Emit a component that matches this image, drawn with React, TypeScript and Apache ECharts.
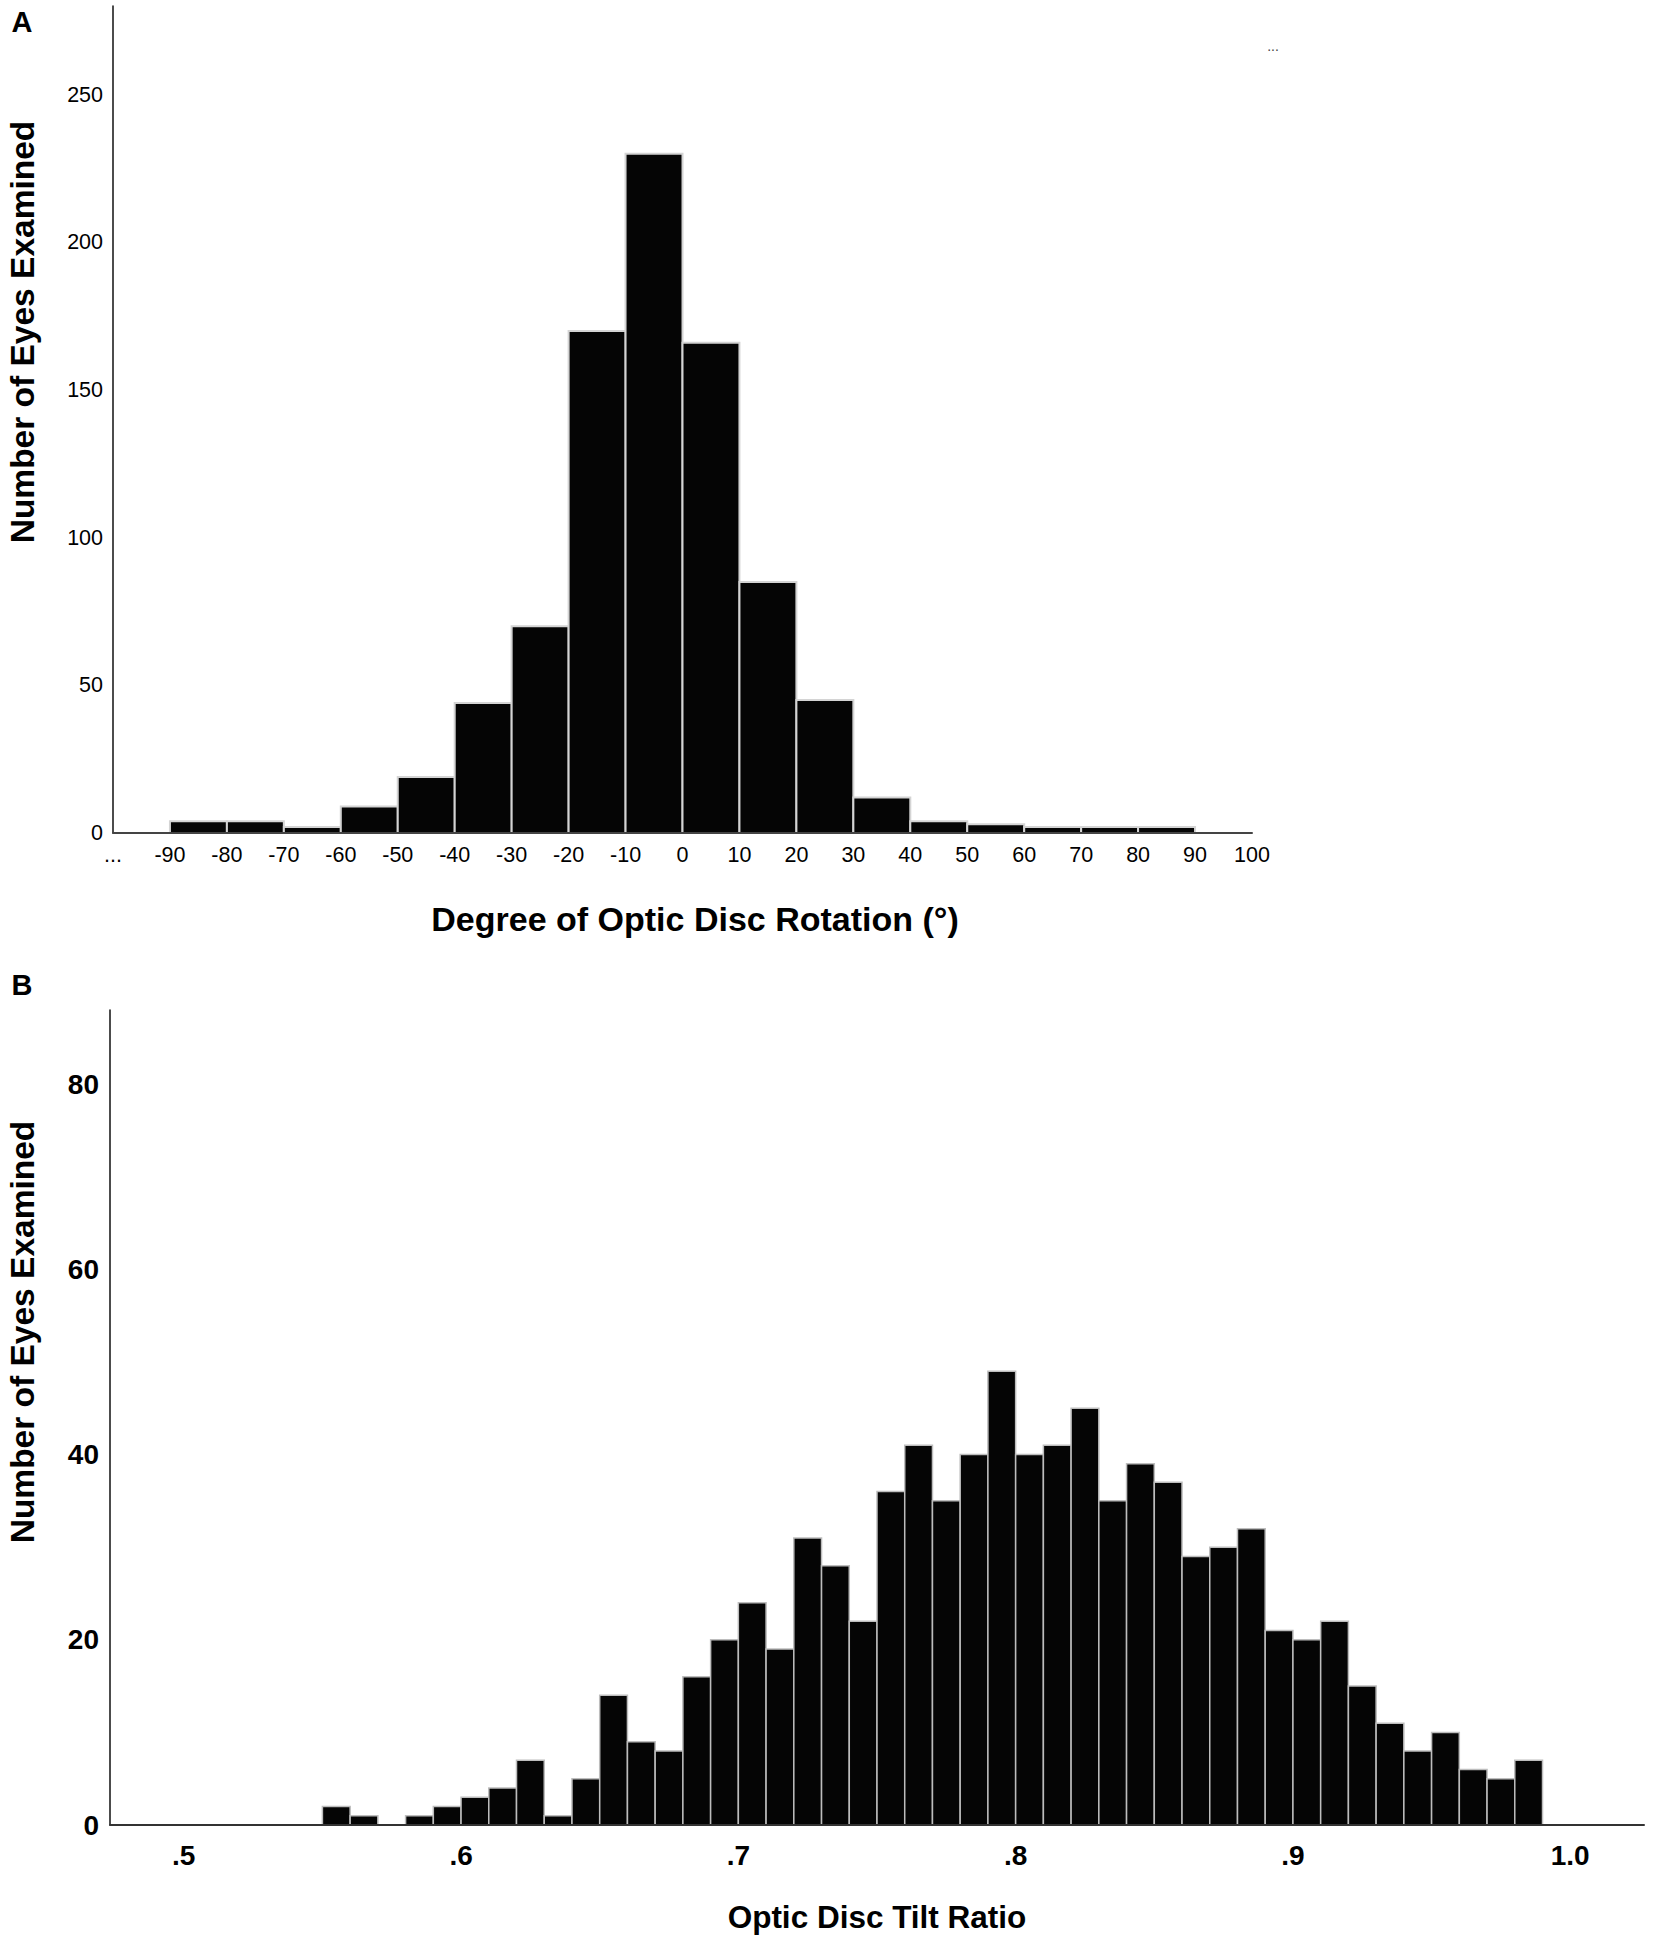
import React, { useEffect, useRef } from "react";
import * as echarts from "echarts";

// ---------- Panel A : Degree of optic disc rotation ----------
const rotationBinStart = [-90, -80, -70, -60, -50, -40, -30, -20, -10, 0, 10, 20, 30, 40, 50, 60, 70, 80];
const rotationBinEnd = [-80, -70, -60, -50, -40, -30, -20, -10, 0, 10, 20, 30, 40, 50, 60, 70, 80, 90];
const rotationCounts = [4, 4, 2, 9, 19, 44, 70, 170, 230, 166, 85, 45, 12, 4, 3, 2, 2, 2];
const rotationYTicks = [0, 50, 100, 150, 200, 250];

// ---------- Panel B : Optic disc tilt ratio ----------
const tiltBinStart = [
  0.55, 0.56, 0.57, 0.58, 0.59, 0.6, 0.61, 0.62, 0.63, 0.64,
  0.65, 0.66, 0.67, 0.68, 0.69, 0.7, 0.71, 0.72, 0.73, 0.74,
  0.75, 0.76, 0.77, 0.78, 0.79, 0.8, 0.81, 0.82, 0.83, 0.84,
  0.85, 0.86, 0.87, 0.88, 0.89, 0.9, 0.91, 0.92, 0.93, 0.94,
  0.95, 0.96, 0.97, 0.98,
];
const tiltBinEnd = [
  0.56, 0.57, 0.58, 0.59, 0.6, 0.61, 0.62, 0.63, 0.64, 0.65,
  0.66, 0.67, 0.68, 0.69, 0.7, 0.71, 0.72, 0.73, 0.74, 0.75,
  0.76, 0.77, 0.78, 0.79, 0.8, 0.81, 0.82, 0.83, 0.84, 0.85,
  0.86, 0.87, 0.88, 0.89, 0.9, 0.91, 0.92, 0.93, 0.94, 0.95,
  0.96, 0.97, 0.98, 0.99,
];
const tiltCounts = [
  2, 1, 0, 1, 2, 3, 4, 7, 1, 5,
  14, 9, 8, 16, 20, 24, 19, 31, 28, 22,
  36, 41, 35, 40, 49, 40, 41, 45, 35, 39,
  37, 29, 30, 32, 21, 20, 22, 15, 11, 8,
  10, 6, 5, 7,
];
const tiltXTickValues = [0.5, 0.6, 0.7, 0.8, 0.9, 1.0];
const tiltXTickLabels = [".5", ".6", ".7", ".8", ".9", "1.0"];
const tiltYTicks = [0, 20, 40, 60, 80];

const FONT = "'Liberation Sans', Arial, Helvetica, sans-serif";

function histRenderer(stroke: string, lineWidth: number) {
  return (params: any, api: any) => {
    const v = api.value(2);
    if (!v) return null;
    const tl = api.coord([api.value(0), v]);
    const br = api.coord([api.value(1), 0]);
    return {
      type: "rect",
      shape: { x: tl[0], y: tl[1], width: br[0] - tl[0], height: br[1] - tl[1] },
      style: { fill: "#050505", stroke, lineWidth },
    };
  };
}

function txt(text: string, x: number, y: number, size: number, bold: boolean, rotation = 0, color = "#000") {
  return {
    type: "text",
    x,
    y,
    rotation,
    silent: true,
    style: {
      text,
      fill: color,
      font: `${bold ? "bold " : ""}${size}px ${FONT}`,
      fontSize: size,
      fontWeight: bold ? "bold" : "normal",
      fontFamily: FONT,
      align: "center",
      verticalAlign: "middle",
      textAlign: "center",
      textVerticalAlign: "middle",
    },
  };
}

export default function App() {
  const ref = useRef<HTMLDivElement>(null);

  useEffect(() => {
    if (!ref.current) return;
    const chart = echarts.init(ref.current, undefined, { renderer: "svg" });

    const rotationData = rotationBinStart.map((s, i) => [s, rotationBinEnd[i], rotationCounts[i]]);
    const tiltData = tiltBinStart.map((s, i) => [s, tiltBinEnd[i], tiltCounts[i]]);

    const option: any = {
      animation: false,
      backgroundColor: "#ffffff",
      textStyle: { fontFamily: FONT },
      grid: [
        { left: 113, top: 6, width: 1139, height: 827 },
        { left: 110, top: 1010, width: 1534, height: 815 },
      ],
      xAxis: [
        {
          gridIndex: 0,
          type: "value",
          min: -100,
          max: 100,
          interval: 10,
          z: 5,
          axisLine: { show: true, onZero: false, lineStyle: { color: "#444", width: 2 } },
          axisTick: { show: false },
          splitLine: { show: false },
          axisLabel: {
            color: "#000",
            fontSize: 21.5,
            fontFamily: FONT,
            margin: 11,
            formatter: (v: number) => (v === -100 ? "..." : String(v)),
          },
        },
        {
          gridIndex: 1,
          type: "value",
          min: 0.4734,
          max: 1.0266,
          z: 5,
          axisLine: { show: true, onZero: false, lineStyle: { color: "#333", width: 2 } },
          axisTick: { show: false },
          splitLine: { show: false },
          axisLabel: {
            customValues: tiltXTickValues,
            color: "#000",
            fontSize: 28,
            fontWeight: "bold",
            fontFamily: FONT,
            margin: 16,
            formatter: (v: number) => {
              const i = tiltXTickValues.findIndex((t) => Math.abs(t - v) < 1e-6);
              return i >= 0 ? tiltXTickLabels[i] : "";
            },
          },
        },
      ],
      yAxis: [
        {
          gridIndex: 0,
          type: "value",
          min: 0,
          max: 280,
          interval: 50,
          axisLine: { show: true, onZero: false, lineStyle: { color: "#111", width: 1.5 } },
          axisTick: { show: false },
          splitLine: { show: false },
          axisLabel: {
            showMaxLabel: false,
            color: "#000",
            fontSize: 21.5,
            fontFamily: FONT,
            margin: 10,
            formatter: (v: number) => (rotationYTicks.indexOf(v) >= 0 ? String(v) : ""),
          },
        },
        {
          gridIndex: 1,
          type: "value",
          min: 0,
          max: 88,
          interval: 20,
          axisLine: { show: true, onZero: false, lineStyle: { color: "#111", width: 1.5 } },
          axisTick: { show: false },
          splitLine: { show: false },
          axisLabel: {
            showMaxLabel: false,
            color: "#000",
            fontSize: 28,
            fontWeight: "bold",
            fontFamily: FONT,
            margin: 11,
            formatter: (v: number) => (tiltYTicks.indexOf(v) >= 0 ? String(v) : ""),
          },
        },
      ],
      series: [
        {
          type: "custom",
          xAxisIndex: 0,
          yAxisIndex: 0,
          renderItem: histRenderer("#d4d4d4", 2),
          encode: { x: [0, 1], y: 2 },
          data: rotationData,
        },
        {
          type: "custom",
          xAxisIndex: 1,
          yAxisIndex: 1,
          renderItem: histRenderer("#bdbdbd", 1.5),
          encode: { x: [0, 1], y: 2 },
          data: tiltData,
        },
      ],
      graphic: [
        txt("A", 22, 22, 29, true),
        txt("B", 22, 985, 29, true),
        txt("Number of Eyes Examined", 22, 332, 33.5, true, Math.PI / 2),
        txt("Degree of Optic Disc Rotation (°)", 695, 919, 34, true),
        txt("Number of Eyes Examined", 22, 1332, 33.5, true, Math.PI / 2),
        txt("Optic Disc Tilt Ratio", 877, 1917, 31.5, true),
        txt("...", 1273, 46, 14, false, 0, "#444"),
      ],
    };

    chart.setOption(option);
    return () => chart.dispose();
  }, []);

  return (
    <div
      ref={ref}
      style={{ position: "absolute", left: 0, top: 0, width: 1654, height: 1940, background: "#fff" }}
    />
  );
}
